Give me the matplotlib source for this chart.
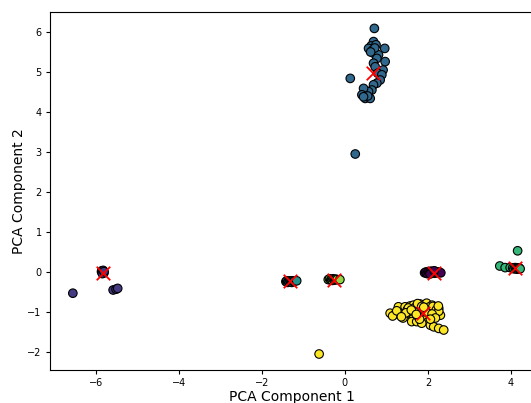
import numpy as np
import matplotlib
matplotlib.use("Agg")
import matplotlib.pyplot as plt

# PCA projections per cluster (component 1, component 2)
c0_x = [1.92, 1.95, 1.98, 2.01, 2.04, 2.07, 2.10, 2.13, 2.16, 2.19, 2.22,
        2.25, 2.28, 2.31, 2.05, 2.15]
c0_y = [-0.02, 0.00, -0.04, 0.01, -0.03, 0.02, -0.02, 0.00, -0.03, 0.01,
        -0.02, 0.00, -0.01, -0.02, -0.05, 0.03]

c1_x = [-5.86, -5.84, -5.82, -5.80, -5.83, -5.85, -5.81, -5.84, -5.82,
        -5.80, -6.55, -5.58, -5.51, -5.47]
c1_y = [0.01, -0.01, 0.02, -0.02, -0.03, 0.03, 0.00, -0.04, 0.04, 0.01,
        -0.53, -0.45, -0.43, -0.41]

c2_x = [0.71, 0.69, 0.63, 0.75, 0.57, 0.96, 0.67, 0.69, 0.81, 0.77, 0.69,
        0.97, 0.73, 0.92, 0.79, 0.89, 0.85, 0.77, 0.69, 0.65, 0.57, 0.45,
        0.41, 0.49, 0.61, 0.13, 0.25, 0.55, 0.45, 0.72, 0.62]
c2_y = [6.09, 5.76, 5.65, 5.68, 5.59, 5.59, 5.55, 5.47, 5.43, 5.34, 5.22,
        5.26, 5.13, 5.05, 4.97, 4.93, 4.80, 4.72, 4.68, 4.55, 4.51, 4.59,
        4.43, 4.34, 4.34, 4.84, 2.95, 4.40, 4.38, 5.60, 5.50]

c3_x = [-1.42, -1.40, -1.38, -1.36, -1.34, -1.32, -1.30, -1.28, -1.26,
        -1.24, -1.22, -1.16]
c3_y = [-0.24, -0.22, -0.26, -0.23, -0.25, -0.22, -0.24, -0.26, -0.22,
        -0.24, -0.23, -0.22]

c4_x = [3.73, 3.86, 3.98, 4.04, 4.07, 4.10, 4.12, 4.14, 4.16, 4.18, 4.20,
        4.22, 4.16]
c4_y = [0.15, 0.11, 0.11, 0.10, 0.08, 0.11, 0.09, 0.07, 0.10, 0.08, 0.10,
        0.08, 0.53]

c5_x = [-0.40, -0.37, -0.34, -0.32, -0.30, -0.28, -0.26, -0.24, -0.22,
        -0.19, -0.12]
c5_y = [-0.19, -0.17, -0.20, -0.18, -0.21, -0.17, -0.19, -0.20, -0.18,
        -0.19, -0.19]

c6_x = [1.09, 1.21, 1.33, 1.37, 1.29, 1.45, 1.57, 1.65, 1.81, 1.89, 1.97,
        2.10, 2.18, 2.26, 2.22, 2.30, 1.61, 1.65, 1.61, 1.73, 1.77, 1.89,
        1.97, 2.01, 2.06, 2.14, 2.26, 2.38, 1.93, 1.85, 1.50, 1.40, 2.05,
        1.15, 1.25, 1.53, 1.70, 1.75, 1.85, 2.02, 2.12, 2.20, 2.26, 1.68,
        1.95, 2.10, 2.18, 1.80, 1.47, 1.36, 2.25, 2.06, 1.90, 1.60, 1.72,
        -0.62]
c6_y = [-1.03, -1.05, -0.99, -1.08, -0.87, -0.87, -0.85, -0.83, -0.80, -0.83,
        -0.78, -0.83, -0.87, -0.91, -1.03, -1.08, -1.08, -1.16, -1.24, -1.24,
        -1.12, -1.08, -1.12, -1.24, -1.33, -1.37, -1.41, -1.45, -0.95, -1.28,
        -0.95, -1.15, -0.95, -1.10, -0.97, -0.90, -0.88, -0.79, -0.86, -0.88,
        -0.86, -0.95, -0.98, -1.00, -1.00, -1.05, -1.15, -1.18, -1.02, -1.12,
        -0.85, -1.18, -0.88, -0.95, -1.06, -2.05]

# Cluster centres in PCA space
centroid_x = [2.14, -5.83, 0.67, -1.31, 4.10, -0.27, 1.87]
centroid_y = [-0.03, -0.02, 4.97, -0.23, 0.11, -0.19, -1.03]

clusters = [(c0_x, c0_y), (c1_x, c1_y), (c2_x, c2_y), (c3_x, c3_y),
            (c4_x, c4_y), (c5_x, c5_y), (c6_x, c6_y)]

xs, ys, labels = [], [], []
for k, (cx, cy) in enumerate(clusters):
    xs += cx
    ys += cy
    labels += [k] * len(cx)

fig = plt.figure(figsize=(5.31, 4.03), dpi=100)
ax = fig.add_axes([50 / 531, 33 / 403, 483 / 531, 358 / 403])

ax.scatter(xs, ys, c=labels, cmap="viridis", vmin=0, vmax=6,
           s=38, edgecolors="k", linewidths=0.8, zorder=2)
ax.scatter(centroid_x, centroid_y, marker="x", c="red", s=95,
           linewidths=1.3, zorder=3)

ax.set_xlim(-7.10, 4.53)
ax.set_ylim(-2.45, 6.5)
ax.set_xticks([-6, -4, -2, 0, 2, 4])
ax.set_yticks([-2, -1, 0, 1, 2, 3, 4, 5, 6])
ax.tick_params(labelsize=7, length=3, width=0.8, pad=3)
ax.spines["right"].set_visible(False)
ax.set_xlabel("PCA Component 1", fontsize=10, labelpad=1)
ax.set_ylabel("PCA Component 2", fontsize=10, labelpad=1)

fig.savefig("out.png", dpi=100)
